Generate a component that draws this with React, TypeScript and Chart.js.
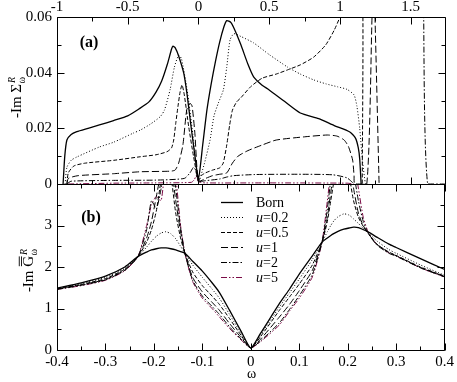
import React, { useEffect, useRef } from "react";
import { Chart, registerables } from "chart.js";
Chart.register(...registerables);

// ---------------- data ----------------
const seriesLabels = ["Born", "u=0.2", "u=0.5", "u=1", "u=2", "u=5"];

// panel (a) tick values
const aXTicks = [-1, -0.5, 0, 0.5, 1, 1.5];
const aXMinor = [-0.75, -0.25, 0.25, 0.75, 1.25];
const aYTicks = [0, 0.02, 0.04, 0.06];
const aYMinor = [0.01, 0.03, 0.05];
// panel (b) tick values
const bXTicks = [-0.4, -0.3, -0.2, -0.1, 0, 0.1, 0.2, 0.3, 0.4];
const bXMinor = [-0.35, -0.25, -0.15, -0.05, 0.05, 0.15, 0.25, 0.35];
const bYTicks = [0, 1, 2, 3];
const bYMinor = [0.5, 1.5, 2.5, 3.5];

// panel (a): -Im Sigma vs omega
const aBornW = [-0.957, -0.945, -0.93, -0.9, -0.86, -0.78, -0.7, -0.6, -0.5, -0.42, -0.35, -0.3, -0.26, -0.22, -0.19, -0.18, -0.165, -0.14, -0.104, -0.08, -0.057, -0.03, 0, 0.03, 0.06, 0.09, 0.12, 0.15, 0.18, 0.2, 0.23, 0.26, 0.3, 0.35, 0.39, 0.45, 0.5, 0.6, 0.72, 0.85, 0.96, 1.07, 1.11, 1.13, 1.14, 1.15];
const aBornV = [0, 0.01, 0.0158, 0.0178, 0.0188, 0.02, 0.0212, 0.0228, 0.0245, 0.027, 0.0295, 0.033, 0.037, 0.043, 0.0485, 0.0495, 0.049, 0.046, 0.0398, 0.032, 0.0225, 0.012, 0.002, 0.014, 0.0266, 0.036, 0.044, 0.051, 0.0565, 0.0587, 0.058, 0.055, 0.05, 0.043, 0.0385, 0.0355, 0.0338, 0.03, 0.0255, 0.0235, 0.021, 0.0187, 0.0165, 0.013, 0.009, 0];

const aU02W = [-0.943, -0.93, -0.9, -0.86, -0.7, -0.6, -0.46, -0.41, -0.34, -0.27, -0.24, -0.2, -0.17, -0.14, -0.12, -0.08, -0.04, 0, 0.04, 0.082, 0.11, 0.14, 0.176, 0.2, 0.223, 0.25, 0.3, 0.39, 0.5, 0.63, 0.72, 0.815, 0.9, 0.985, 1.05, 1.1, 1.12, 1.14, 1.16, 1.18];
const aU02V = [0, 0.006, 0.0085, 0.0097, 0.0133, 0.015, 0.0183, 0.0194, 0.0215, 0.0242, 0.0266, 0.034, 0.042, 0.0463, 0.045, 0.0338, 0.018, 0.001, 0.007, 0.0158, 0.0245, 0.029, 0.0338, 0.042, 0.0517, 0.054, 0.053, 0.0507, 0.0465, 0.042, 0.0395, 0.0374, 0.036, 0.0349, 0.034, 0.032, 0.028, 0.02, 0.008, 0];

const aU05W = [-0.93, -0.92, -0.88, -0.8, -0.6, -0.41, -0.3, -0.222, -0.19, -0.175, -0.16, -0.145, -0.13, -0.116, -0.1, -0.069, -0.035, 0, 0.02, 0.05, 0.1, 0.15, 0.175, 0.2, 0.22, 0.24, 0.27, 0.3, 0.37, 0.45, 0.55, 0.63, 0.72, 0.815, 0.9, 0.96, 1.0, 1.05, 1.1, 1.158, 1.158];
const aU05V = [0, 0.004, 0.0065, 0.0075, 0.0085, 0.0098, 0.0105, 0.0116, 0.013, 0.0158, 0.022, 0.0278, 0.033, 0.0356, 0.032, 0.0206, 0.01, 0.001, 0.003, 0.004, 0.005, 0.0058, 0.0075, 0.014, 0.021, 0.0265, 0.0295, 0.031, 0.035, 0.038, 0.0395, 0.041, 0.0428, 0.0456, 0.05, 0.0553, 0.06, 0.068, 0.075, 0.075, 0];

const aU1W = [-0.93, -0.92, -0.85, -0.6, -0.41, -0.2, -0.165, -0.14, -0.11, -0.083, -0.06, -0.045, -0.025, 0, 0.05, 0.1, 0.15, 0.2, 0.24, 0.28, 0.35, 0.45, 0.55, 0.74, 0.91, 0.98, 1.03, 1.06, 1.09, 1.1, 1.105, 1.19, 1.227, 1.237, 1.248, 1.277];
const aU1V = [0, 0.002, 0.003, 0.0037, 0.0044, 0.0046, 0.005, 0.0075, 0.014, 0.0266, 0.029, 0.028, 0.018, 0.001, 0.002, 0.003, 0.0035, 0.004, 0.0075, 0.01, 0.012, 0.014, 0.0158, 0.0169, 0.0176, 0.0172, 0.0158, 0.0135, 0.0086, 0.003, 0, 0, 0.06, 0.075, 0.06, 0];

const aU2W = [-0.93, -0.9, -0.6, -0.3, -0.1, -0.06, -0.035, -0.02, 0, 0.05, 0.15, 0.2, 0.25, 0.4, 0.7, 0.95, 1.05, 1.09, 1.1, 1.589, 1.59, 1.62, 1.75];
const aU2V = [0, 0.001, 0.0013, 0.0014, 0.002, 0.004, 0.006, 0.005, 0.001, 0.0012, 0.0018, 0.0025, 0.003, 0.0034, 0.0035, 0.0033, 0.0022, 0.0005, 0, null, 0.07, 0, 0];

const aU5W = [-0.92, -0.6, -0.3, -0.05, -0.03, -0.015, 0, 0.05, 0.5, 1.05, 1.1];
const aU5V = [0, 0.0003, 0.0004, 0.0006, 0.0015, 0.003, 0.0008, 0.0004, 0.0004, 0.0003, 0];

// panel (b): -Im G vs omega (shared omega grid)
const bW = [-0.4, -0.35, -0.3, -0.26, -0.233, -0.215, -0.205, -0.195, -0.185, -0.175, -0.165, -0.155, -0.145, -0.136, -0.12, -0.1, -0.08, -0.065, -0.044, -0.02, 0, 0.02, 0.0586, 0.08, 0.1, 0.127, 0.147, 0.158, 0.165, 0.172, 0.18, 0.192, 0.203, 0.212, 0.222, 0.232, 0.243, 0.26, 0.285, 0.3, 0.35, 0.4];
const bBorn = [1.49, 1.62, 1.78, 2.0, 2.25, 2.36, 2.41, 2.44, 2.46, 2.46, 2.44, 2.41, 2.37, 2.33, 2.14, 1.9, 1.62, 1.39, 0.96, 0.45, 0.05, 0.4, 1.11, 1.47, 1.83, 2.27, 2.6, 2.7, 2.76, 2.81, 2.86, 2.91, 2.94, 2.96, 2.95, 2.9, 2.84, 2.72, 2.55, 2.47, 2.2, 1.94];
const bU02 = [1.48, 1.6, 1.75, 1.97, 2.25, 2.48, 2.62, 2.74, 2.82, 2.85, 2.8, 2.68, 2.5, 2.33, 2.05, 1.75, 1.47, 1.25, 0.86, 0.4, 0.05, 0.36, 1.03, 1.38, 1.71, 2.18, 2.6, 2.85, 3.0, 3.12, 3.21, 3.28, 3.25, 3.16, 3.05, 2.93, 2.82, 2.63, 2.42, 2.33, 2.05, 1.8];
const bU05 = [1.47, 1.58, 1.72, 1.95, 2.25, 2.6, 2.9, 3.35, 4.1, 4.6, 4.2, 3.3, 2.7, 2.33, 1.88, 1.55, 1.3, 1.1, 0.76, 0.35, 0.05, 0.32, 0.95, 1.28, 1.59, 2.05, 2.6, 3.1, 3.6, 4.1, 4.6, 4.8, 4.2, 3.6, 3.2, 2.98, 2.8, 2.55, 2.36, 2.28, 2.0, 1.78];
const bU1 = [1.47, 1.57, 1.7, 1.93, 2.25, 2.7, 3.1, 3.7, 4.3, 4.8, 4.5, 3.6, 2.85, 2.33, 1.75, 1.4, 1.15, 0.96, 0.64, 0.3, 0.05, 0.26, 0.79, 1.1, 1.43, 1.92, 2.6, 3.2, 3.8, 4.3, 4.8, 5.0, 4.6, 3.9, 3.3, 3.0, 2.8, 2.55, 2.35, 2.27, 1.99, 1.77];
const bU2 = [1.46, 1.56, 1.69, 1.92, 2.25, 2.9, 3.6, 3.4, 3.9, 4.8, 4.8, 3.9, 2.95, 2.33, 1.68, 1.3, 1.05, 0.86, 0.56, 0.26, 0.05, 0.22, 0.65, 0.98, 1.31, 1.82, 2.6, 3.4, 4.1, 4.6, 5.0, 5.0, 4.9, 4.3, 3.6, 3.1, 2.8, 2.53, 2.33, 2.26, 1.98, 1.76];
const bU5 = [1.46, 1.55, 1.68, 1.91, 2.25, 3.0, 3.5, 3.7, 3.6, 4.6, 5.0, 4.2, 3.0, 2.33, 1.65, 1.25, 1.0, 0.8, 0.52, 0.24, 0.05, 0.2, 0.6, 0.94, 1.25, 1.76, 2.6, 3.6, 4.3, 4.8, 5.0, 5.0, 5.0, 4.6, 3.9, 3.2, 2.82, 2.55, 2.34, 2.27, 1.98, 1.76];

// ---------------- styles / layout ----------------
const lineStyles = [
  { color: "#000000", dash: [] as number[], width: 1.3 },
  { color: "#000000", dash: [1, 2], width: 1 },
  { color: "#000000", dash: [4, 2], width: 1 },
  { color: "#000000", dash: [7, 3], width: 1 },
  { color: "#000000", dash: [6, 2, 1.5, 2], width: 1 },
  { color: "#7a0a45", dash: [6, 2, 1.5, 2, 1.5, 2], width: 1 },
];
const CW = 457, CH = 382;
const PL = 57, PR = 446, PT = 17, PM = 184, PB = 350;
const FONT = '"Liberation Serif", "Times New Roman", serif';

function dataset(w: number[], v: (number | null)[], i: number) {
  const st = lineStyles[i];
  return {
    label: seriesLabels[i],
    data: w.map((x, k) => ({ x, y: v[k] })),
    borderColor: st.color,
    borderDash: st.dash,
    borderWidth: st.width,
    pointRadius: 0,
    fill: false,
    tension: 0.2,
    spanGaps: false,
  };
}

function framePlugin(xMaj: number[], xMin: number[], yMaj: number[], yMin: number[]) {
  return {
    id: "frameTicks",
    afterDraw(chart: any) {
      const { ctx, chartArea: a, scales } = chart;
      const xs = scales.x, ys = scales.y;
      const l = Math.round(a.left) + 0.5, r = Math.round(a.right) - 0.5;
      const t = Math.round(a.top) + 0.5, b = Math.round(a.bottom) + 0.5;
      ctx.save();
      ctx.setLineDash([]);
      ctx.strokeStyle = "#000";
      ctx.lineWidth = 1;
      ctx.beginPath();
      ctx.rect(l, t, r - l, b - t);
      const xt = (vals: number[], len: number) => {
        vals.forEach((v) => {
          const p = Math.round(xs.getPixelForValue(v)) + 0.5;
          ctx.moveTo(p, t); ctx.lineTo(p, t + len);
          ctx.moveTo(p, b); ctx.lineTo(p, b - len);
        });
      };
      const yt = (vals: number[], len: number) => {
        vals.forEach((v) => {
          const p = Math.round(ys.getPixelForValue(v)) + 0.5;
          ctx.moveTo(l, p); ctx.lineTo(l + len, p);
          ctx.moveTo(r, p); ctx.lineTo(r - len, p);
        });
      };
      xt(xMaj, 7); xt(xMin, 4); yt(yMaj, 7); yt(yMin, 4);
      ctx.stroke();
      ctx.restore();
    },
  };
}

function drawYTitle(ctx: CanvasRenderingContext2D, baseX: number, cy: number, sym: string, bars: boolean) {
  ctx.save();
  ctx.translate(baseX, cy);
  ctx.rotate(-Math.PI / 2);
  ctx.fillStyle = "#000";
  ctx.textBaseline = "alphabetic";
  ctx.textAlign = "left";
  const mainF = `15px ${FONT}`;
  const supF = `italic 10px ${FONT}`;
  const subF = `10px ${FONT}`;
  ctx.font = mainF;
  const pre = "-Im ";
  const w1 = ctx.measureText(pre).width;
  const w2 = ctx.measureText(sym).width;
  ctx.font = supF;
  const w3 = Math.max(ctx.measureText("R").width, 7);
  const x0 = -(w1 + w2 + w3 + 1) / 2;
  ctx.font = mainF;
  ctx.fillText(pre, x0, 0);
  ctx.fillText(sym, x0 + w1, 0);
  if (bars) {
    ctx.fillRect(x0 + w1 + 0.5, -12, w2 - 1, 0.9);
    ctx.fillRect(x0 + w1 + 0.5, -14.2, w2 - 1, 0.9);
  }
  ctx.font = supF;
  ctx.fillText("R", x0 + w1 + w2 + 1, -6.5);
  ctx.font = subF;
  ctx.fillText("ω", x0 + w1 + w2 + 0.5, 3.5);
  ctx.restore();
}

const textPluginA = {
  id: "textA",
  afterDraw(chart: any) {
    const ctx = chart.ctx as CanvasRenderingContext2D;
    drawYTitle(ctx, 21, 97, "Σ", false);
    ctx.save();
    ctx.fillStyle = "#000";
    ctx.font = `bold 16px ${FONT}`;
    ctx.textAlign = "center";
    ctx.textBaseline = "alphabetic";
    ctx.fillText("(a)", 89, 47);
    ctx.restore();
  },
};

const textPluginB = {
  id: "textB",
  afterDraw(chart: any) {
    const ctx = chart.ctx as CanvasRenderingContext2D;
    drawYTitle(ctx, 33, 270, "G", true);
    ctx.save();
    ctx.fillStyle = "#000";
    ctx.font = `bold 16px ${FONT}`;
    ctx.textAlign = "center";
    ctx.textBaseline = "alphabetic";
    ctx.fillText("(b)", 91, 222);
    ctx.font = `14px ${FONT}`;
    ctx.fillText("ω", 251.5, 378);
    // legend
    const ds = chart.data.datasets;
    ds.forEach((d: any, i: number) => {
      const y = 202 + 15 * i;
      ctx.save();
      ctx.strokeStyle = d.borderColor;
      ctx.lineWidth = d.borderWidth;
      ctx.setLineDash(d.borderDash || []);
      ctx.beginPath();
      ctx.moveTo(221, Math.round(y) + 0.5);
      ctx.lineTo(243, Math.round(y) + 0.5);
      ctx.stroke();
      ctx.restore();
      ctx.textAlign = "left";
      const label: string = d.label;
      const by = y + 4.5;
      if (label.startsWith("u")) {
        ctx.font = `italic 14px ${FONT}`;
        ctx.fillText("u", 256, by);
        const wu = ctx.measureText("u").width;
        ctx.font = `14px ${FONT}`;
        ctx.fillText(label.slice(1), 256 + wu, by);
      } else {
        ctx.font = `14px ${FONT}`;
        ctx.fillText(label, 256, by);
      }
    });
    ctx.restore();
  },
};

function tickOpts(size: number, padding: number) {
  return {
    color: "#000",
    font: { family: FONT, size },
    padding,
    autoSkip: false,
    maxRotation: 0,
    minRotation: 0,
    callback: (v: any) => String(v),
  };
}

function makeConfigA(): any {
  return {
    type: "line",
    data: {
      datasets: [
        dataset(aBornW, aBornV, 0),
        dataset(aU02W, aU02V, 1),
        dataset(aU05W, aU05V, 2),
        dataset(aU1W, aU1V, 3),
        dataset(aU2W, aU2V, 4),
        dataset(aU5W, aU5V, 5),
      ],
    },
    options: {
      animation: false,
      responsive: false,
      maintainAspectRatio: false,
      layout: { padding: { left: 0, right: CW - PR, top: 0, bottom: CH - PM } },
      plugins: { legend: { display: false }, tooltip: { enabled: false }, title: { display: false } },
      scales: {
        x: {
          type: "linear",
          position: "top",
          min: -1,
          max: 1.75,
          afterBuildTicks: (s: any) => { s.ticks = aXTicks.map((value) => ({ value })); },
          afterFit: (s: any) => { s.height = PT; },
          grid: { display: false, drawTicks: false },
          border: { display: false },
          ticks: tickOpts(15, 1),
        },
        y: {
          type: "linear",
          position: "left",
          min: 0,
          max: 0.06,
          afterBuildTicks: (s: any) => { s.ticks = aYTicks.map((value) => ({ value })); },
          afterFit: (s: any) => { s.width = PL; },
          grid: { display: false, drawTicks: false },
          border: { display: false },
          ticks: tickOpts(15, 5),
        },
      },
    },
    plugins: [framePlugin(aXTicks, aXMinor, aYTicks, aYMinor), textPluginA],
  };
}

function makeConfigB(): any {
  const series = [bBorn, bU02, bU05, bU1, bU2, bU5];
  return {
    type: "line",
    data: { datasets: series.map((v, i) => dataset(bW, v, i)) },
    options: {
      animation: false,
      responsive: false,
      maintainAspectRatio: false,
      layout: { padding: { left: 0, right: CW - PR, top: PM, bottom: 0 } },
      plugins: { legend: { display: false }, tooltip: { enabled: false }, title: { display: false } },
      scales: {
        x: {
          type: "linear",
          position: "bottom",
          min: -0.4,
          max: 0.4,
          afterBuildTicks: (s: any) => { s.ticks = bXTicks.map((value) => ({ value })); },
          afterFit: (s: any) => { s.height = CH - PB; },
          grid: { display: false, drawTicks: false },
          border: { display: false },
          ticks: tickOpts(15, 3),
        },
        y: {
          type: "linear",
          position: "left",
          min: 0,
          max: 4,
          afterBuildTicks: (s: any) => { s.ticks = bYTicks.map((value) => ({ value })); },
          afterFit: (s: any) => { s.width = PL; },
          grid: { display: false, drawTicks: false },
          border: { display: false },
          ticks: tickOpts(15, 5),
        },
      },
    },
    plugins: [framePlugin(bXTicks, bXMinor, [...bYTicks, 4], bYMinor), textPluginB],
  };
}

export default function App() {
  const refA = useRef<HTMLCanvasElement>(null);
  const refB = useRef<HTMLCanvasElement>(null);
  useEffect(() => {
    const ca = new Chart(refA.current as HTMLCanvasElement, makeConfigA());
    const cb = new Chart(refB.current as HTMLCanvasElement, makeConfigB());
    return () => {
      ca.destroy();
      cb.destroy();
    };
  }, []);
  const cs: React.CSSProperties = { position: "absolute", left: 0, top: 0, width: CW, height: CH };
  return (
    <div style={{ position: "absolute", left: 0, top: 0, width: CW, height: CH, background: "#fff" }}>
      <canvas ref={refB} width={CW} height={CH} style={cs} />
      <canvas ref={refA} width={CW} height={CH} style={cs} />
    </div>
  );
}
